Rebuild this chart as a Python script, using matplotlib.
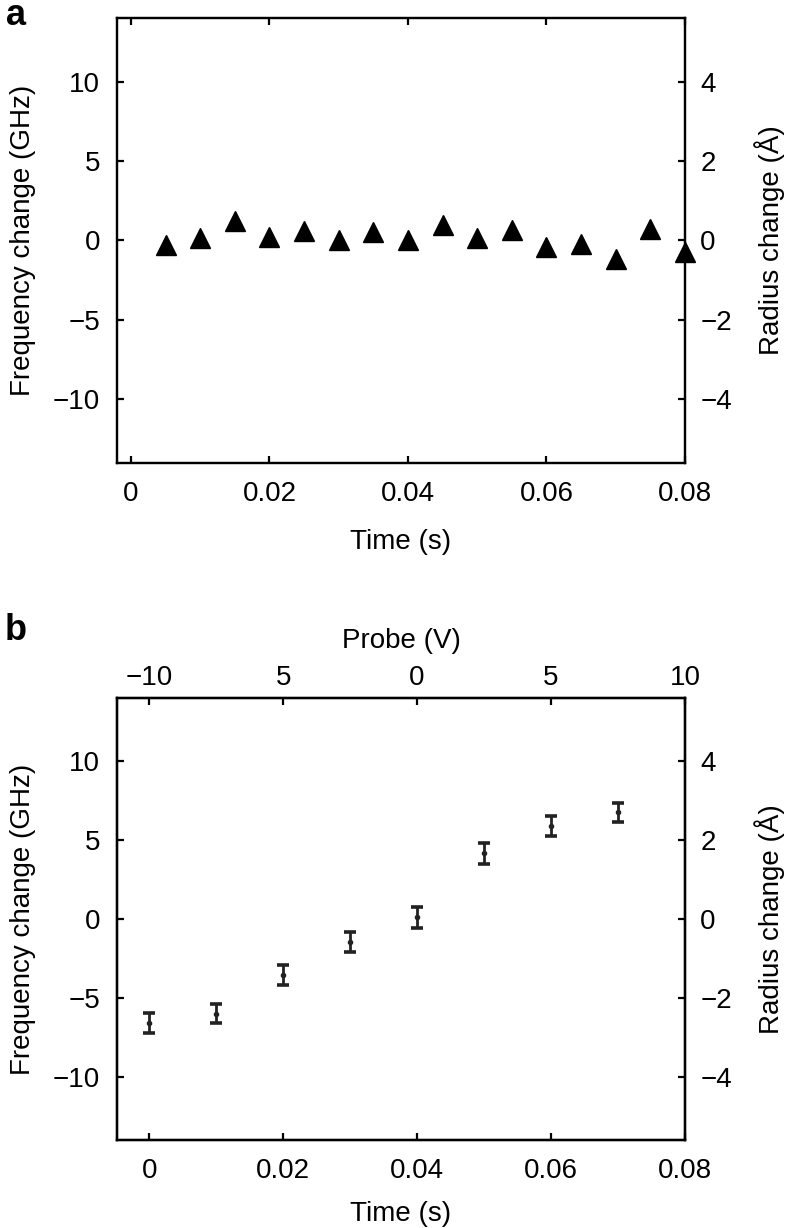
import matplotlib
matplotlib.use("Agg")
import matplotlib.pyplot as plt

plt.rcParams["font.family"] = ["Liberation Sans", "DejaVu Sans"]

# ── panel a: frequency change vs time (triangles) ─────────────────────────
time_a = [0.005, 0.010, 0.015, 0.020, 0.025, 0.030, 0.035, 0.040,
          0.045, 0.050, 0.055, 0.060, 0.065, 0.070, 0.075, 0.080]
freq_a = [-0.3, 0.15, 1.25, 0.2, 0.6, 0.05, 0.55, 0.05,
          0.95, 0.15, 0.65, -0.4, -0.2, -1.15, 0.7, -0.7]

# ── panel b: frequency change vs time with error bars ─────────────────────
time_b = [0.00, 0.01, 0.02, 0.03, 0.04, 0.05, 0.06, 0.07]
freq_b = [-6.6, -6.0, -3.55, -1.45, 0.1, 4.15, 5.9, 6.75]
err_b = [0.62, 0.62, 0.65, 0.65, 0.65, 0.65, 0.62, 0.62]

time_ticks = [0, 0.02, 0.04, 0.06, 0.08]
time_labels = ["0", "0.02", "0.04", "0.06", "0.08"]
probe_labels = ["\u221210", "5", "0", "5", "10"]
freq_ticks = [-10, -5, 0, 5, 10]
radius_ticks = [-4, -2, 0, 2, 4]

FREQ_LIM = 14.0
RATIO = 0.4      # Å per GHz
FS = 20
LW = 1.6


def minus(v):
    return str(v).replace("-", "\u2212")


def style(ax, pad):
    for s in ax.spines.values():
        s.set_linewidth(LW)
    ax.tick_params(direction="in", length=5, width=LW, labelsize=FS, pad=pad)


def setup_axes(ax, xlim, xlabelpad):
    ax.set_xlim(*xlim)
    ax.set_ylim(-FREQ_LIM, FREQ_LIM)
    ax.set_xticks(time_ticks)
    ax.set_xticklabels(time_labels)
    ax.set_yticks(freq_ticks)
    ax.set_yticklabels([minus(v) for v in freq_ticks])
    style(ax, 12)
    ax.tick_params(axis="x", pad=13)
    ax.set_xlabel("Time (s)", fontsize=FS, labelpad=xlabelpad)
    ax.set_ylabel("Frequency change (GHz)", fontsize=FS, labelpad=12)

    axr = ax.twinx()
    axr.set_ylim(-FREQ_LIM * RATIO, FREQ_LIM * RATIO)
    axr.set_yticks(radius_ticks)
    axr.set_yticklabels([minus(v) for v in radius_ticks])
    style(axr, 11)
    axr.set_ylabel("Radius change (\u00c5)", fontsize=FS, labelpad=16)
    return axr


fig = plt.figure(figsize=(7.88, 12.28), dpi=100)

# ── panel a ───────────────────────────────────────────────────────────────
ax_a = fig.add_axes([0.1485, 0.6230, 0.7208, 0.3624])
setup_axes(ax_a, (-0.002, 0.08), 16)
ax_a.tick_params(top=True, labeltop=False)
ax_a.plot(time_a, freq_a, linestyle="none", marker="^", markersize=15,
          color="black", clip_on=False, zorder=5)
fig.text(0.008, 0.9796, "a", fontsize=26, fontweight="bold", va="baseline")

# ── panel b ───────────────────────────────────────────────────────────────
ax_b = fig.add_axes([0.1485, 0.0717, 0.7208, 0.3599])
setup_axes(ax_b, (-0.0048, 0.08), 12)
ax_b.errorbar(time_b, freq_b, yerr=err_b, fmt="o", markersize=3,
              color="#222222", ecolor="#222222", elinewidth=2,
              capsize=4.5, capthick=2.6, zorder=5)

ax_top = ax_b.twiny()
ax_top.set_xlim(ax_b.get_xlim())
ax_top.set_xticks(time_ticks)
ax_top.set_xticklabels(probe_labels)
style(ax_top, 5)
ax_top.set_xlabel("Probe (V)", fontsize=FS, labelpad=12)
fig.text(0.006, 0.4788, "b", fontsize=26, fontweight="bold", va="baseline")

fig.savefig("out.png", dpi=100)
